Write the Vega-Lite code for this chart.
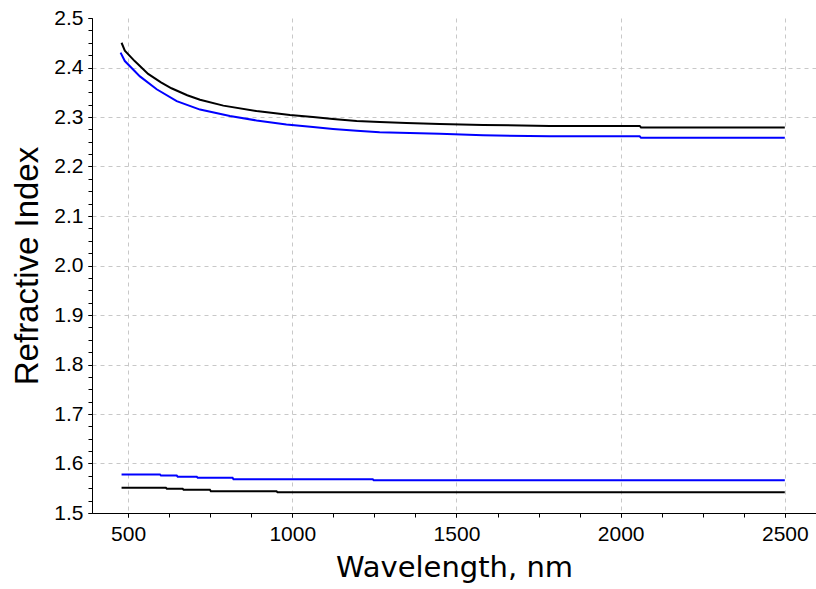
{
  "$schema": "https://vega.github.io/schema/vega-lite/v6.json",
  "width": 724,
  "height": 495,
  "autosize": {"type": "none"},
  "padding": {"left": 92, "top": 18, "right": 0, "bottom": 76},
  "background": "white",
  "config": {"view": {"stroke": null}},
  "data": {"values": [
    {"s": "ub", "c": "black", "w": 480, "n": 2.450},
    {"s": "ub", "c": "black", "w": 490, "n": 2.434},
    {"s": "ub", "c": "black", "w": 520, "n": 2.413},
    {"s": "ub", "c": "black", "w": 561, "n": 2.387},
    {"s": "ub", "c": "black", "w": 600, "n": 2.370},
    {"s": "ub", "c": "black", "w": 632, "n": 2.358},
    {"s": "ub", "c": "black", "w": 680, "n": 2.344},
    {"s": "ub", "c": "black", "w": 719, "n": 2.335},
    {"s": "ub", "c": "black", "w": 790, "n": 2.323},
    {"s": "ub", "c": "black", "w": 891, "n": 2.312},
    {"s": "ub", "c": "black", "w": 993, "n": 2.304},
    {"s": "ub", "c": "black", "w": 1063, "n": 2.300},
    {"s": "ub", "c": "black", "w": 1124, "n": 2.296},
    {"s": "ub", "c": "black", "w": 1196, "n": 2.292},
    {"s": "ub", "c": "black", "w": 1266, "n": 2.290},
    {"s": "ub", "c": "black", "w": 1348, "n": 2.288},
    {"s": "ub", "c": "black", "w": 1449, "n": 2.286},
    {"s": "ub", "c": "black", "w": 1581, "n": 2.284},
    {"s": "ub", "c": "black", "w": 1784, "n": 2.282},
    {"s": "ub", "c": "black", "w": 2058, "n": 2.282},
    {"s": "ub", "c": "black", "w": 2062, "n": 2.279},
    {"s": "ub", "c": "black", "w": 2500, "n": 2.279},
    {"s": "uu", "c": "blue", "w": 477, "n": 2.430},
    {"s": "uu", "c": "blue", "w": 490, "n": 2.413},
    {"s": "uu", "c": "blue", "w": 536, "n": 2.382},
    {"s": "uu", "c": "blue", "w": 587, "n": 2.356},
    {"s": "uu", "c": "blue", "w": 648, "n": 2.332},
    {"s": "uu", "c": "blue", "w": 719, "n": 2.315},
    {"s": "uu", "c": "blue", "w": 810, "n": 2.302},
    {"s": "uu", "c": "blue", "w": 891, "n": 2.293},
    {"s": "uu", "c": "blue", "w": 982, "n": 2.285},
    {"s": "uu", "c": "blue", "w": 1063, "n": 2.280},
    {"s": "uu", "c": "blue", "w": 1124, "n": 2.276},
    {"s": "uu", "c": "blue", "w": 1196, "n": 2.272},
    {"s": "uu", "c": "blue", "w": 1266, "n": 2.269},
    {"s": "uu", "c": "blue", "w": 1449, "n": 2.266},
    {"s": "uu", "c": "blue", "w": 1581, "n": 2.263},
    {"s": "uu", "c": "blue", "w": 1784, "n": 2.261},
    {"s": "uu", "c": "blue", "w": 2058, "n": 2.261},
    {"s": "uu", "c": "blue", "w": 2062, "n": 2.258},
    {"s": "uu", "c": "blue", "w": 2500, "n": 2.258},
    {"s": "lu", "c": "blue", "w": 480, "n": 1.578},
    {"s": "lu", "c": "blue", "w": 597, "n": 1.578},
    {"s": "lu", "c": "blue", "w": 600, "n": 1.5756},
    {"s": "lu", "c": "blue", "w": 648, "n": 1.5756},
    {"s": "lu", "c": "blue", "w": 651, "n": 1.5733},
    {"s": "lu", "c": "blue", "w": 709, "n": 1.5733},
    {"s": "lu", "c": "blue", "w": 712, "n": 1.5713},
    {"s": "lu", "c": "blue", "w": 818, "n": 1.5713},
    {"s": "lu", "c": "blue", "w": 821, "n": 1.568},
    {"s": "lu", "c": "blue", "w": 1245, "n": 1.568},
    {"s": "lu", "c": "blue", "w": 1248, "n": 1.566},
    {"s": "lu", "c": "blue", "w": 2500, "n": 1.566},
    {"s": "lb", "c": "black", "w": 480, "n": 1.551},
    {"s": "lb", "c": "black", "w": 615, "n": 1.551},
    {"s": "lb", "c": "black", "w": 618, "n": 1.549},
    {"s": "lb", "c": "black", "w": 666, "n": 1.549},
    {"s": "lb", "c": "black", "w": 669, "n": 1.547},
    {"s": "lb", "c": "black", "w": 749, "n": 1.547},
    {"s": "lb", "c": "black", "w": 752, "n": 1.544},
    {"s": "lb", "c": "black", "w": 952, "n": 1.544},
    {"s": "lb", "c": "black", "w": 955, "n": 1.542},
    {"s": "lb", "c": "black", "w": 2500, "n": 1.542}
  ]},
  "layer": [
    {
      "mark": {"type": "line", "opacity": 0},
      "encoding": {
        "x": {"field": "w", "type": "quantitative", "scale": {"domain": [390, 2595], "nice": false, "zero": false},
          "axis": {"orient": "bottom", "values": [500, 1000, 1500, 2000, 2500], "grid": true, "labels": false, "ticks": false, "domain": false, "title": null, "gridDash": [4, 4], "gridColor": "#c8c8c8", "gridWidth": 1}},
        "y": {"field": "n", "type": "quantitative", "scale": {"domain": [1.5, 2.5], "nice": false, "zero": false},
          "axis": {"orient": "left", "values": [1.6, 1.7, 1.8, 1.9, 2.0, 2.1, 2.2, 2.3, 2.4], "grid": true, "labels": false, "ticks": false, "domain": false, "title": null, "gridDash": [4, 4], "gridColor": "#c8c8c8", "gridWidth": 1}},
        "detail": {"field": "s"}
      }
    },
    {
      "mark": {"type": "line", "opacity": 0},
      "encoding": {
        "x": {"field": "w", "type": "quantitative",
          "axis": {"orient": "bottom", "values": [500, 625, 750, 875, 1000, 1125, 1250, 1375, 1500, 1625, 1750, 1875, 2000, 2125, 2250, 2375, 2500], "grid": false, "labels": false, "ticks": true, "tickSize": 4, "tickColor": "#000000", "domain": false, "title": null}},
        "y": {"field": "n", "type": "quantitative",
          "axis": {"orient": "left", "values": [1.5, 1.525, 1.55, 1.575, 1.6, 1.625, 1.65, 1.675, 1.7, 1.725, 1.75, 1.775, 1.8, 1.825, 1.85, 1.875, 1.9, 1.925, 1.95, 1.975, 2.0, 2.025, 2.05, 2.075, 2.1, 2.125, 2.15, 2.175, 2.2, 2.225, 2.25, 2.275, 2.3, 2.325, 2.35, 2.375, 2.4, 2.425, 2.45, 2.475, 2.5], "grid": false, "labels": false, "ticks": true, "tickSize": 4, "tickColor": "#000000", "domain": false, "title": null}},
        "detail": {"field": "s"}
      }
    },
    {
      "mark": {"type": "line", "strokeWidth": 2},
      "encoding": {
        "x": {"field": "w", "type": "quantitative",
          "axis": {"orient": "bottom", "values": [500, 1000, 1500, 2000, 2500], "format": "d", "grid": false, "tickSize": 4, "tickColor": "#000000", "domainColor": "#000000", "labelFont": "Liberation Sans", "labelFontSize": 21, "labelColor": "#000000", "labelPadding": 6,
            "title": "Wavelength, nm", "titleFont": "DejaVu Sans", "titleFontSize": 29, "titleFontWeight": "normal", "titleColor": "#000000", "titlePadding": 9}},
        "y": {"field": "n", "type": "quantitative",
          "axis": {"orient": "left", "values": [1.5, 1.6, 1.7, 1.8, 1.9, 2.0, 2.1, 2.2, 2.3, 2.4, 2.5], "format": ".1f", "grid": false, "tickSize": 4, "tickColor": "#000000", "domainColor": "#000000", "labelFont": "Liberation Sans", "labelFontSize": 21, "labelColor": "#000000", "labelPadding": 5,
            "title": "Refractive Index", "titleFont": "Liberation Sans", "titleFontSize": 33, "titleFontWeight": "normal", "titleColor": "#000000", "titlePadding": 9}},
        "color": {"field": "c", "type": "nominal", "scale": {"domain": ["black", "blue"], "range": ["#000000", "#0000ff"]}, "legend": null},
        "detail": {"field": "s"}
      }
    }
  ],
  "resolve": {"axis": {"x": "independent", "y": "independent"}}
}
